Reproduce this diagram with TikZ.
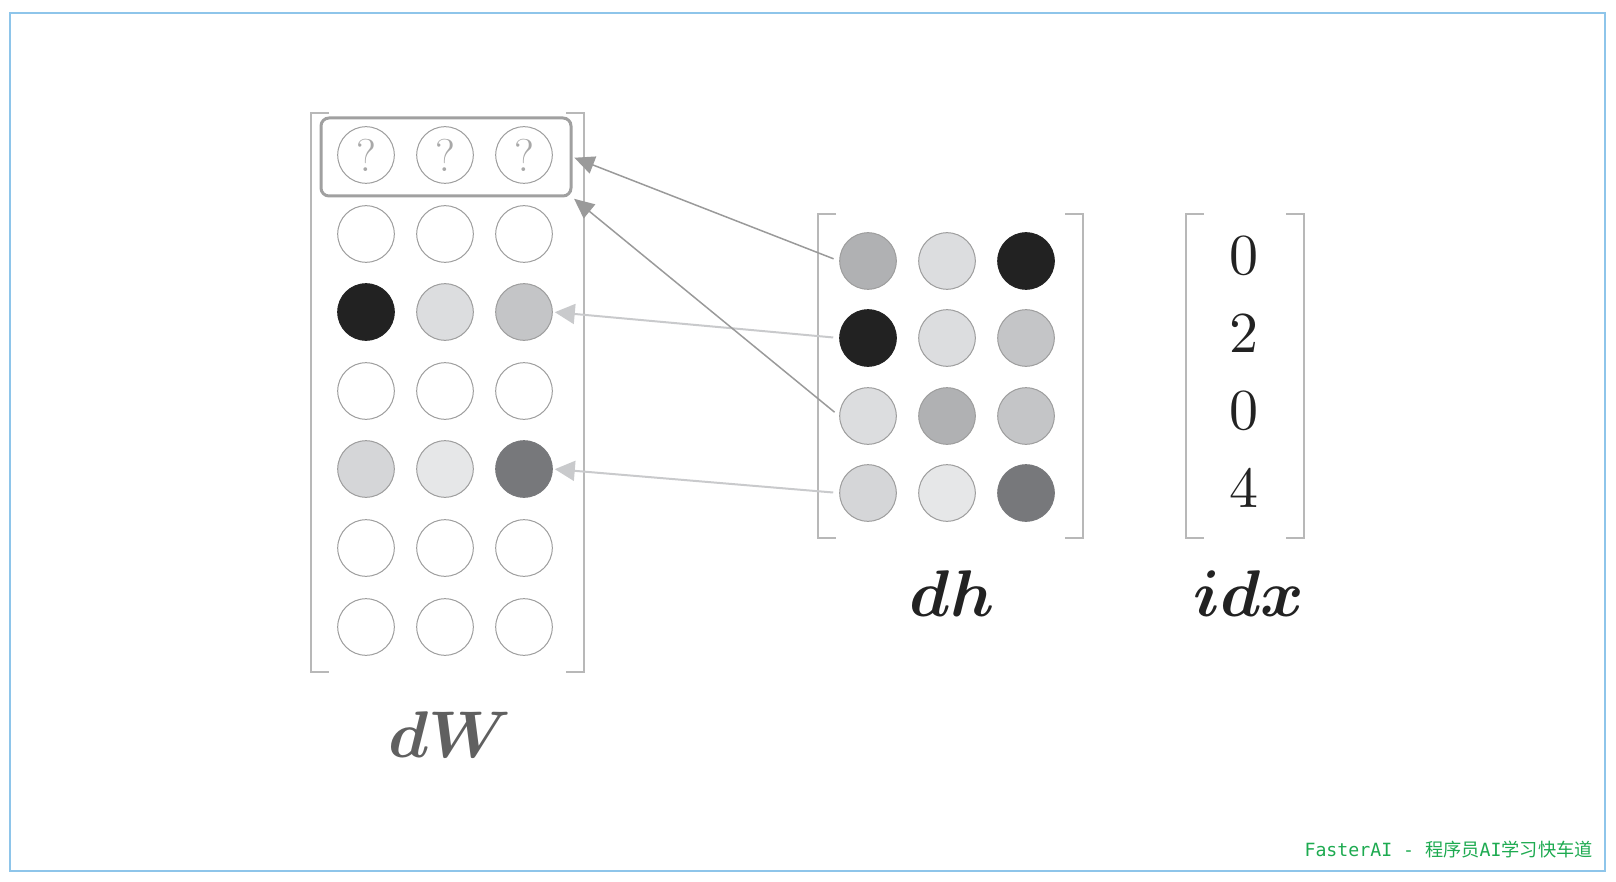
\RequirePackage{fix-cm}
\documentclass[tikz,border=0pt]{standalone}
\usepackage{bm}
\usepackage{graphicx}
\usepackage{fontspec}
\newfontfamily\cjk{Noto Sans CJK SC}
\newfontfamily\monofnt{DejaVu Sans Mono}
\usepackage{xcolor}
\definecolor{cellLine}  {HTML}{9D9D9D}
\definecolor{bracketLine}{HTML}{B8B8B8}
\definecolor{boxLine}   {HTML}{A0A0A0}
\definecolor{qmark}     {HTML}{A8A8A8}
\definecolor{dotBlack}  {HTML}{222222}
\definecolor{dotPale}   {HTML}{DCDDDF}
\definecolor{dotSilver} {HTML}{C4C5C7}
\definecolor{dotGrey}   {HTML}{B0B1B3}
\definecolor{dotMist}   {HTML}{D5D6D8}
\definecolor{dotSnow}   {HTML}{E6E7E8}
\definecolor{dotSlate}  {HTML}{77787B}
\definecolor{hitLine}   {HTML}{9A9A9A}
\definecolor{fadeLine}  {HTML}{C9CACC}
\definecolor{labelGrey} {HTML}{606060}
\definecolor{frameBlue} {HTML}{8EC5EA}
\definecolor{brandGreen}{HTML}{1DAA50}
\usetikzlibrary{arrows.meta}
\tikzset{
    cell/.style={circle, draw=cellLine, line width=0.5pt,
                 minimum size=28.3pt, inner sep=0pt},
    qcell/.style={cell, text=qmark, font=\fontsize{23}{23}\selectfont},
    bracket/.style={draw=bracketLine, line width=0.75pt},
    rowbox/.style={draw=boxLine, line width=1.5pt, rounded corners=4pt,
                   minimum width=125pt, minimum height=39pt, inner sep=0pt},
    hitarrow/.style={-{Triangle[length=10pt, width=9pt]}, hitLine,
                     line width=0.75pt, shorten <=3pt, shorten >=1pt},
    fadearrow/.style={-{Triangle[length=10pt, width=10pt]}, fadeLine,
                      line width=1pt, shorten <=3pt, shorten >=1pt},
    matlabel/.style={anchor=base, font=\fontsize{33}{40}\selectfont},
    idxnum/.style={font=\fontsize{10}{12}\selectfont, text=dotBlack},
}
\newcommand{\bignum}[1]{\scalebox{2.9}{#1}}

\begin{document}
\begin{tikzpicture}[x=0.5pt, y=-0.5pt]
\useasboundingbox (0,0) rectangle (1616,882);
\draw[frameBlue, line width=0.75pt] (10,13) rectangle (1605,871);

% --- dW: embedding gradient, 7 rows ---
\draw[bracket] (329,113) -- (311,113) -- (311,672) -- (329,672);
\draw[bracket] (566,113) -- (584,113) -- (584,672) -- (566,672);
\node[rowbox] (box) at (446,157) {};

\node[qcell] (w-1-1) at (366,155) {?};
\node[qcell] (w-1-2) at (445,155) {?};
\node[qcell] (w-1-3) at (524,155) {?};
\node[cell] (w-2-1) at (366,234) {};
\node[cell] (w-2-2) at (445,234) {};
\node[cell] (w-2-3) at (524,234) {};
\node[cell, fill=dotBlack, draw=dotBlack] (w-3-1) at (366,312) {};
\node[cell, fill=dotPale] (w-3-2) at (445,312) {};
\node[cell, fill=dotSilver] (w-3-3) at (524,312) {};
\node[cell] (w-4-1) at (366,391) {};
\node[cell] (w-4-2) at (445,391) {};
\node[cell] (w-4-3) at (524,391) {};
\node[cell, fill=dotMist] (w-5-1) at (366,469) {};
\node[cell, fill=dotSnow] (w-5-2) at (445,469) {};
\node[cell, fill=dotSlate, draw=dotSlate] (w-5-3) at (524,469) {};
\node[cell] (w-6-1) at (366,548) {};
\node[cell] (w-6-2) at (445,548) {};
\node[cell] (w-6-3) at (524,548) {};
\node[cell] (w-7-1) at (366,627) {};
\node[cell] (w-7-2) at (445,627) {};
\node[cell] (w-7-3) at (524,627) {};

\node[matlabel, text=labelGrey] (lbl-dw) at (450,757) {$\bm{dW}$};

% --- dh: upstream gradient, 4 rows ---
\draw[bracket] (836,214) -- (818,214) -- (818,538) -- (836,538);
\draw[bracket] (1065,214) -- (1083,214) -- (1083,538) -- (1065,538);

\node[cell, fill=dotGrey] (dh-1-1) at (868,261) {};
\node[cell, fill=dotPale] (dh-1-2) at (947,261) {};
\node[cell, fill=dotBlack, draw=dotBlack] (dh-1-3) at (1026,261) {};
\node[cell, fill=dotBlack, draw=dotBlack] (dh-2-1) at (868,338) {};
\node[cell, fill=dotPale] (dh-2-2) at (947,338) {};
\node[cell, fill=dotSilver] (dh-2-3) at (1026,338) {};
\node[cell, fill=dotPale] (dh-3-1) at (868,416) {};
\node[cell, fill=dotGrey] (dh-3-2) at (947,416) {};
\node[cell, fill=dotSilver] (dh-3-3) at (1026,416) {};
\node[cell, fill=dotMist] (dh-4-1) at (868,493) {};
\node[cell, fill=dotSnow] (dh-4-2) at (947,493) {};
\node[cell, fill=dotSlate, draw=dotSlate] (dh-4-3) at (1026,493) {};

\node[matlabel, text=dotBlack] (lbl-dh) at (952,616) {$\bm{dh}$};

% --- idx ---
\draw[bracket] (1204,214) -- (1186,214) -- (1186,538) -- (1204,538);
\draw[bracket] (1286,214) -- (1304,214) -- (1304,538) -- (1286,538);

\node[idxnum] (i-1) at (1244,256) {\bignum{0}};
\node[idxnum] (i-2) at (1244,333) {\bignum{2}};
\node[idxnum] (i-3) at (1244,411) {\bignum{0}};
\node[idxnum] (i-4) at (1244,488) {\bignum{4}};

\node[matlabel, text=dotBlack] (lbl-idx) at (1249,616) {$\bm{idx}$};

% --- scatter-add arrows ---
\draw[fadearrow] (dh-2-1.west) -- (w-3-3.east);
\draw[fadearrow] (dh-4-1.west) -- (w-5-3.east);
\draw[hitarrow] (dh-1-1.west) -- (box.east);
\draw[hitarrow] (dh-3-1.west) -- (box.south east);

\node[anchor=base east, inner sep=0pt, text=brandGreen,
      font=\fontsize{9.1}{11}\selectfont] (brand) at (1593,856)
    {\monofnt FasterAI - \cjk 程序员\monofnt AI\cjk 学习快车道};
\end{tikzpicture}
\end{document}
